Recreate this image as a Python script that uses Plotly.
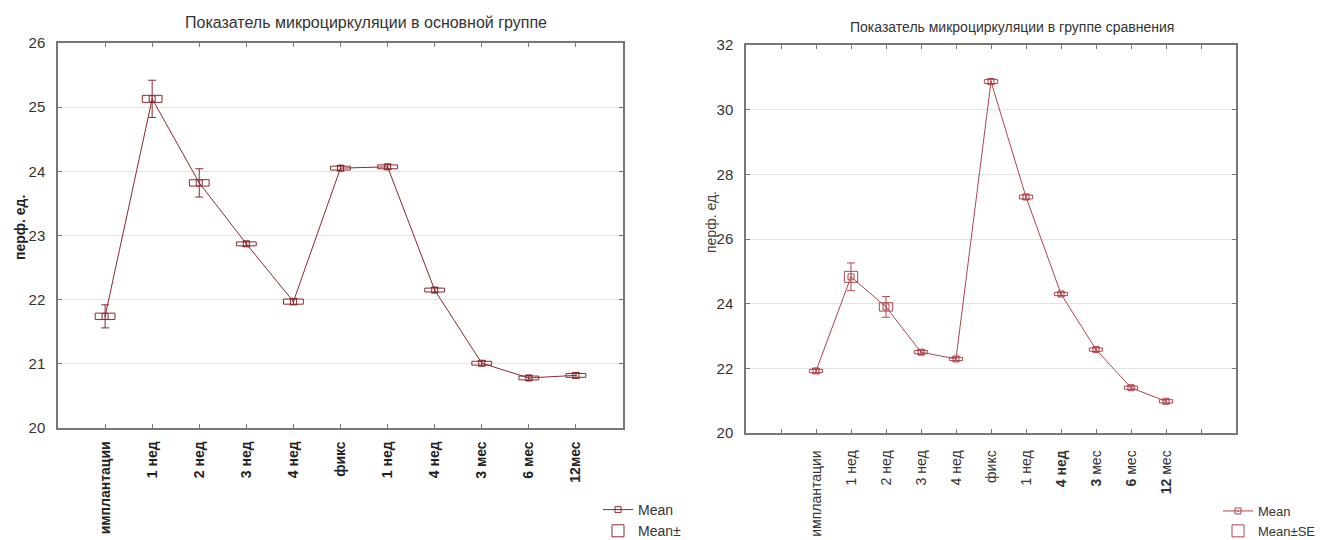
import plotly.graph_objects as go

# ---- data -------------------------------------------------------------
cats_left = ["имплантации", "1 нед", "2 нед", "3 нед", "4 нед", "фикс",
             "1 нед", "4 нед", "3 мес", "6 мес", "12мес"]
mean_left = [21.74, 25.13, 23.82, 22.87, 21.97, 24.05, 24.07, 22.15, 21.01, 20.78, 20.82]
se_left = [0.05, 0.055, 0.05, 0.03, 0.04, 0.03, 0.03, 0.03, 0.03, 0.03, 0.03]
whisk_left = [0.18, 0.29, 0.22, 0.04, 0.05, 0.04, 0.04, 0.04, 0.04, 0.04, 0.04]

cats_right = ["имплантации", "1 нед", "2 нед", "3 нед", "4 нед", "фикс",
              "1 нед", "4 нед", "3 мес", "6 мес", "12 мес"]
mean_right = [21.92, 24.83, 23.90, 22.50, 22.29, 30.87, 27.30, 24.30, 22.58, 21.40, 20.98]
se_right = [0.05, 0.17, 0.13, 0.05, 0.05, 0.06, 0.06, 0.05, 0.05, 0.05, 0.05]
whisk_right = [0.07, 0.43, 0.32, 0.07, 0.06, 0.08, 0.08, 0.06, 0.06, 0.06, 0.06]

title_left = "Показатель микроциркуляции в основной группе"
title_right = "Показатель микроциркуляции в группе сравнения"
ytitle = "перф. ед."

W, H = 1320, 540
FONT = "Liberation Sans, Arial, sans-serif"
C_LEFT = "#8a2a2c"
C_RIGHT = "#b0464c"


def px_x(v):
    return v / W


def px_y(v):
    return 1 - v / H


idx_left = list(range(len(cats_left)))
idx_right = list(range(len(cats_right)))

fig = go.Figure()


def add_group(idx, mean, se, whisk, color, xa, ya, legend, box_name, box_w):
    fig.add_trace(go.Bar(
        x=idx, y=[2 * s for s in se], base=[m - s for m, s in zip(mean, se)],
        width=box_w, marker=dict(color="rgba(0,0,0,0)", line=dict(color=color, width=1)),
        name=box_name, legend=legend, legendrank=2, xaxis=xa, yaxis=ya,
        hoverinfo="skip"))
    fig.add_trace(go.Scatter(
        x=idx, y=mean, mode="lines+markers", name="Mean", legend=legend, legendrank=1,
        line=dict(color=color, width=1),
        marker=dict(symbol="square-open-dot", size=6, color=color, line=dict(width=1)),
        error_y=dict(type="data", array=whisk, color=color, thickness=1, width=4),
        xaxis=xa, yaxis=ya))


add_group(idx_left, mean_left, se_left, whisk_left, C_LEFT, "x", "y", "legend", "Mean±", 0.42)
add_group(idx_right, mean_right, se_right, whisk_right, C_RIGHT, "x2", "y2", "legend2", "Mean±SE", 0.38)


def bold_digits(label, i):
    # the later time points carry bold numerals on the right-hand axis
    if i == 7:
        return "<b>" + label + "</b>"
    if i > 7:
        num, rest = label.split(" ", 1)
        return "<b>" + num + "</b> " + rest
    return label


ticktext_right = [""] + [bold_digits(c, i) for i, c in enumerate(cats_right)] + [""]
tickvals_right = [-1] + idx_right + [len(cats_right)]

axis_common = dict(showline=True, linecolor="#777", linewidth=1.5, mirror="ticks",
                   ticks="inside", ticklen=4, tickcolor="#777", automargin=False,
                   zeroline=False)

fig.update_layout(
    width=W, height=H, margin=dict(l=0, r=0, t=0, b=0, autoexpand=False),
    paper_bgcolor="white", plot_bgcolor="white", barmode="overlay",
    font=dict(family=FONT, color="#333"),
    xaxis=dict(domain=[px_x(58), px_x(623)], range=[-1, 11], anchor="y",
               tickmode="array", tickvals=idx_left,
               ticktext=["<b>" + c + "</b>" for c in cats_left],
               tickangle=-90, tickfont=dict(size=14, color="#222"),
               ticklabelstandoff=6, showgrid=False, **axis_common),
    yaxis=dict(domain=[px_y(428), px_y(43)], range=[20, 26], anchor="x", dtick=1,
               tickfont=dict(size=15, color="#333"), ticklabelstandoff=8,
               showgrid=True, gridcolor="#e4e4e4", gridwidth=1, **axis_common),
    xaxis2=dict(domain=[px_x(746), px_x(1236)], range=[-2, 12], anchor="y2",
                tickmode="array", tickvals=tickvals_right, ticktext=ticktext_right,
                tickangle=-90, tickfont=dict(size=14, color="#333"),
                ticklabelstandoff=10, showgrid=False, **axis_common),
    yaxis2=dict(domain=[px_y(433), px_y(45)], range=[20, 32], anchor="x2", dtick=2,
                tickfont=dict(size=15, color="#333"), ticklabelstandoff=8,
                showgrid=True, gridcolor="#e4e4e4", gridwidth=1, **axis_common),
    legend=dict(x=px_x(598), y=px_y(494), xanchor="left", yanchor="top",
                bgcolor="rgba(0,0,0,0)", font=dict(size=14, color="#333"),
                tracegroupgap=0, itemwidth=30),
    legend2=dict(x=px_x(1218), y=px_y(496), xanchor="left", yanchor="top",
                 bgcolor="rgba(0,0,0,0)", font=dict(size=13, color="#333"),
                 tracegroupgap=0, itemwidth=30),
)

fig.add_annotation(text=title_left, x=px_x(366), y=px_y(22), xref="paper", yref="paper",
                   xanchor="center", yanchor="middle", showarrow=False,
                   font=dict(size=16, color="#333"))
fig.add_annotation(text=title_right, x=px_x(1012), y=px_y(27), xref="paper", yref="paper",
                   xanchor="center", yanchor="middle", showarrow=False,
                   font=dict(size=14, color="#333"))
fig.add_annotation(text="<b>" + ytitle + "</b>", x=px_x(20), y=px_y(228), xref="paper",
                   yref="paper", xanchor="center", yanchor="middle", textangle=-90,
                   showarrow=False, font=dict(size=14, color="#222"))
fig.add_annotation(text=ytitle, x=px_x(711), y=px_y(222), xref="paper", yref="paper",
                   xanchor="center", yanchor="middle", textangle=-90, showarrow=False,
                   font=dict(size=14, color="#444"))

fig.write_html("out.html")
